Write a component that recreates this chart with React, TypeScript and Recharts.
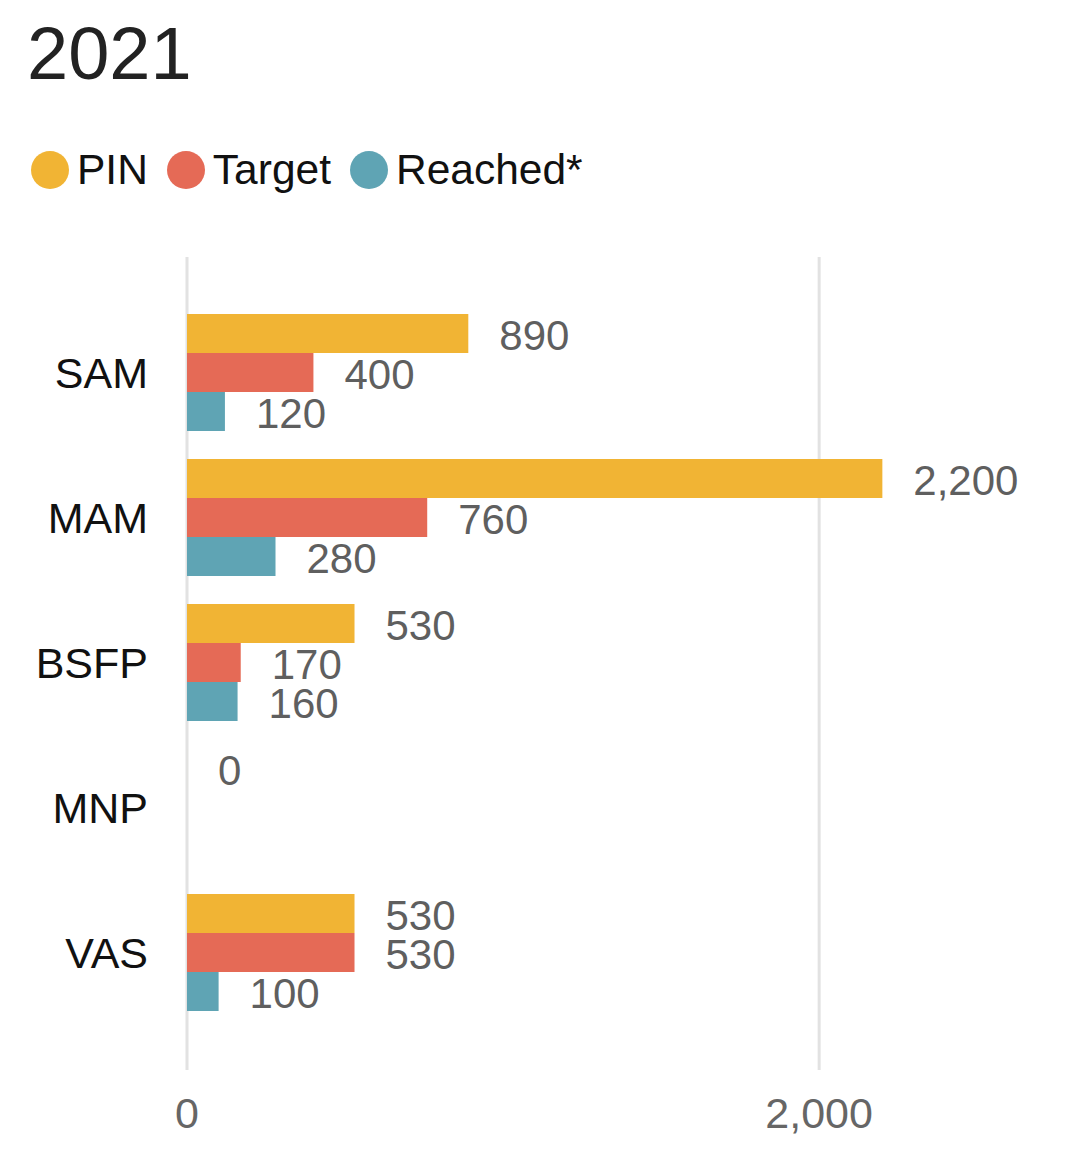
import { BarChart, Bar, XAxis, YAxis, CartesianGrid, LabelList } from "recharts";

const categories = ["SAM", "MAM", "BSFP", "MNP", "VAS"];
const pin = [890, 2200, 530, 0, 530];
const target = [400, 760, 170, null, 530];
const reached = [120, 280, 160, null, 100];
const xTicks = [0, 2000];

const series = [
  { key: "pin", name: "PIN", color: "#F1B434" },
  { key: "target", name: "Target", color: "#E56A56" },
  { key: "reached", name: "Reached*", color: "#5FA4B4" },
];

const data = categories.map((name, i) => ({
  name,
  pin: pin[i],
  target: target[i],
  reached: reached[i],
}));

const font = "'Liberation Sans', Arial, sans-serif";
const fmt = (v: any) => (v == null ? "" : Number(v).toLocaleString("en-US"));

export default function App() {
  return (
    <div style={{ position: "relative", width: 1067, height: 1146, fontFamily: font }}>
      <div
        style={{
          position: "absolute",
          left: 19,
          top: 9,
          fontSize: 74,
          lineHeight: "74px",
          color: "#222",
        }}
      >
        2021
      </div>
      <div
        style={{
          position: "absolute",
          left: 23,
          top: 142,
          height: 40,
          display: "flex",
          alignItems: "center",
        }}
      >
        {series.map((s) => (
          <div key={s.key} style={{ display: "flex", alignItems: "center", marginRight: 19 }}>
            <span
              style={{
                display: "inline-block",
                width: 38,
                height: 38,
                borderRadius: "50%",
                background: s.color,
                marginRight: 8,
              }}
            />
            <span style={{ fontSize: 42.5, lineHeight: "40px", color: "#111" }}>{s.name}</span>
          </div>
        ))}
      </div>
      <div style={{ position: "absolute", left: 0, top: 0 }}>
        <BarChart
          width={1067}
          height={1146}
          data={data}
          layout="vertical"
          margin={{ top: 249, right: 3, bottom: 0, left: 0 }}
          barCategoryGap={14}
          barGap={0}
        >
          <CartesianGrid horizontal={false} stroke="#e2e2e2" strokeWidth={3} />
          <XAxis
            type="number"
            domain={[0, 2800]}
            ticks={xTicks}
            tickFormatter={fmt}
            axisLine={false}
            tickLine={false}
            tickMargin={21}
            height={84}
            tick={{ fill: "#666", fontSize: 43, fontFamily: font }}
          />
          <YAxis
            type="category"
            dataKey="name"
            width={179}
            axisLine={false}
            tickLine={false}
            tickMargin={33}
            padding={{ top: 43, bottom: 45 }}
            tick={{ fill: "#111", fontSize: 43, fontFamily: font }}
          />
          {series.map((s) => (
            <Bar
              key={s.key}
              dataKey={s.key}
              name={s.name}
              fill={s.color}
              minPointSize={(v: any) => (v === 0 ? 0.01 : 0)}
              isAnimationActive={false}
            >
              <LabelList
                dataKey={s.key}
                position="right"
                offset={31}
                formatter={fmt}
                fill="#5f5f5f"
                fontSize={42}
                fontFamily={font}
                dy={2}
              />
            </Bar>
          ))}
        </BarChart>
      </div>
    </div>
  );
}
